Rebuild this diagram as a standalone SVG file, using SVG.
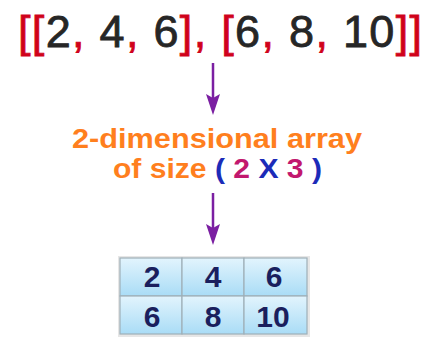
<svg xmlns="http://www.w3.org/2000/svg" width="438" height="339" viewBox="0 0 438 339">
<defs>
<style>
.top{font-family:"Liberation Sans",Arial,sans-serif;font-size:45px;fill:#262626;stroke:#262626;stroke-width:0.8}
.r{fill:#d0021b;stroke:#d0021b}
.lbl{font-family:"Liberation Sans",Arial,sans-serif;font-size:28px;font-weight:bold;fill:#ff7f1e}
.b{fill:#1c2bb8}
.m{fill:#c2186e}
.num{font-family:"Liberation Sans",Arial,sans-serif;font-size:30px;font-weight:bold;fill:#1a1f5e;text-anchor:middle}
.conn{stroke:#7b1fa2;stroke-width:2.5;fill:none}
.head{fill:#7b1fa2}
.cell{fill:url(#cg);stroke:#9fb0b8;stroke-width:1.2}
</style>
<linearGradient id="cg" x1="0" y1="0" x2="0" y2="1">
<stop offset="0" stop-color="#e2f4fd"/>
<stop offset="1" stop-color="#a9dcf6"/>
</linearGradient>
</defs>
<rect width="438" height="339" fill="#ffffff"/>
<g id="source">
<text class="top" x="18" y="47" textLength="404" lengthAdjust="spacing"><tspan class="r">[[</tspan>2<tspan class="r">,</tspan> 4<tspan class="r">,</tspan> 6<tspan class="r">],</tspan> <tspan class="r">[</tspan>6<tspan class="r">,</tspan> 8<tspan class="r">,</tspan> 10<tspan class="r">]]</tspan></text>
</g>
<g id="label">
<text class="lbl" x="72" y="148" textLength="290" lengthAdjust="spacingAndGlyphs">2-dimensional array</text>
<text class="lbl" x="113" y="178" textLength="209" lengthAdjust="spacingAndGlyphs">of size <tspan class="b">(</tspan> <tspan class="m">2</tspan> <tspan class="b">X</tspan> <tspan class="m">3</tspan> <tspan class="b">)</tspan></text>
</g>
<g id="table">
<rect x="118" y="256" width="192" height="81" fill="#e6e6e6"/>
<rect class="cell" x="120" y="258" width="62" height="38"/>
<rect class="cell" x="182" y="258" width="62" height="38"/>
<rect class="cell" x="244" y="258" width="63" height="38"/>
<rect class="cell" x="120" y="296" width="62" height="38"/>
<rect class="cell" x="182" y="296" width="62" height="38"/>
<rect class="cell" x="244" y="296" width="63" height="38"/>
<text class="num" x="152" y="287">2</text>
<text class="num" x="213" y="287">4</text>
<text class="num" x="274" y="287">6</text>
<text class="num" x="152" y="327">6</text>
<text class="num" x="213" y="327">8</text>
<text class="num" x="273" y="327">10</text>
</g>
<g id="connectors">
<line class="conn" x1="213" y1="63" x2="213" y2="100"/>
<polygon class="head" points="206,94 213,98 220,94 213,115"/>
<line class="conn" x1="213" y1="193" x2="213" y2="230"/>
<polygon class="head" points="206,224 213,228 220,224 213,245"/>
</g>
</svg>
